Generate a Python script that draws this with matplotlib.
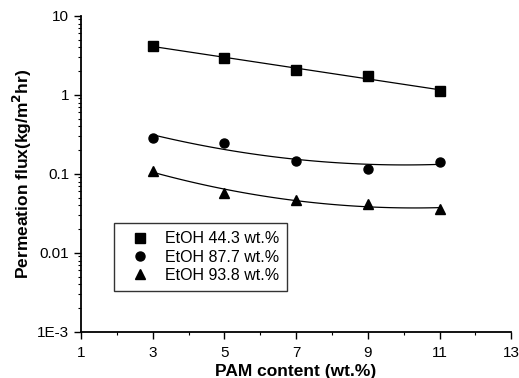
import numpy as np
import matplotlib
matplotlib.use("Agg")
import matplotlib.pyplot as plt
from matplotlib.ticker import FixedLocator, LogLocator, NullFormatter, FixedFormatter

pam = [3, 5, 7, 9, 11]
etoh443 = [4.17, 2.94, 2.07, 1.74, 1.12]
etoh877 = [0.286, 0.247, 0.146, 0.116, 0.142]
etoh938 = [0.11, 0.058, 0.047, 0.041, 0.036]
labels = ["EtOH 44.3 wt.%", "EtOH 87.7 wt.%", "EtOH 93.8 wt.%"]
markers = ["s", "o", "^"]
fit_deg = [1, 2, 2]

plt.rcParams['font.family'] = ['Liberation Sans', 'DejaVu Sans']
fig = plt.figure(figsize=(5.19, 3.78), dpi=100)
ax = fig.add_axes([0.156, 0.122, 0.829, 0.836])

xs = np.linspace(3, 11, 100)
for y, m, lab, d in zip([etoh443, etoh877, etoh938], markers, labels, fit_deg):
    p = np.polyfit(pam, np.log10(y), d)
    ax.plot(xs, 10 ** np.polyval(p, xs), color='black', lw=0.9)
    ax.plot(pam, y, linestyle='none', marker=m, color='black', markersize=6.5, label=lab)

ax.set_yscale('log')
ax.set_xlim(1, 13)
ax.set_ylim(1e-3, 10)
ax.xaxis.set_major_locator(FixedLocator([1, 3, 5, 7, 9, 11, 13]))
ax.xaxis.set_minor_locator(FixedLocator([2, 4, 6, 8, 10, 12]))
ax.yaxis.set_major_locator(FixedLocator([1e-3, 1e-2, 1e-1, 1, 10]))
ax.yaxis.set_major_formatter(FixedFormatter(["1E-3", "0.01", "0.1", "1", "10"]))
ax.yaxis.set_minor_locator(LogLocator(base=10, subs=np.arange(2, 10)))
ax.yaxis.set_minor_formatter(NullFormatter())
for s in ['top', 'right']:
    ax.spines[s].set_visible(False)
for s in ['left', 'bottom']:
    ax.spines[s].set_linewidth(1.3)
ax.tick_params(which='major', direction='out', length=5, width=1, labelsize=11)
ax.tick_params(which='major', axis='x', pad=5)
ax.tick_params(which='minor', direction='out', length=2.5, width=0.8)

ax.set_xlabel("PAM content (wt.%)", fontsize=12.5, fontweight='bold', va='center')
ax.xaxis.set_label_coords(0.5, -0.125)
ax.set_ylabel("Permeation flux(kg/m$^\\mathbf{2}$hr)", fontsize=12.5, fontweight='bold', va='center')
ax.yaxis.set_label_coords(-0.137, 0.5)

leg = ax.legend(loc='lower left', bbox_to_anchor=(0.077, 0.13), borderaxespad=0, frameon=True,
                fancybox=False, edgecolor='black', fontsize=11.5, handlelength=2.2, borderpad=0.5,
                labelspacing=0.2, handletextpad=0.5)
leg.get_frame().set_linewidth(1.0)

fig.savefig("out.png", dpi=100)
